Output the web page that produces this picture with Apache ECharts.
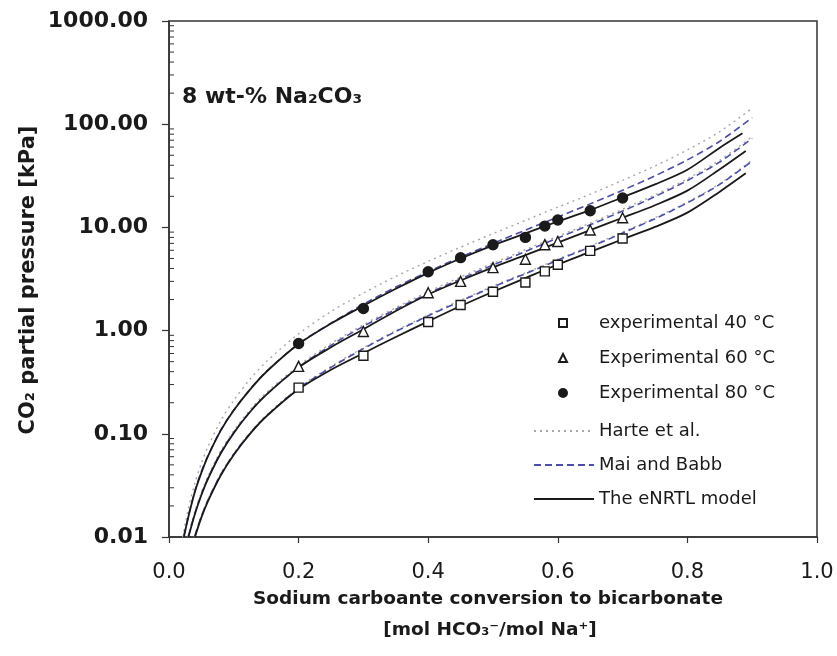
<!DOCTYPE html>
<html>
<head>
<meta charset="utf-8">
<script src="https://cdn.jsdelivr.net/npm/echarts@6/dist/echarts.min.js"></script>
<style>
html,body{margin:0;padding:0;background:#fff;}
#c{width:837px;height:656px;}
</style>
</head>
<body>
<div id="c"></div>
<script>
// ---- experimental data ----
const expX  = [0.2, 0.3, 0.4, 0.45, 0.5, 0.55, 0.58, 0.6, 0.65, 0.7];
const exp40 = [0.28, 0.57, 1.21, 1.77, 2.38, 2.92, 3.75, 4.35, 5.92, 7.8];
const exp60 = [0.45, 0.98, 2.33, 3.0, 4.08, 4.91, 6.8, 7.3, 9.44, 12.4];
const exp80 = [0.75, 1.64, 3.72, 5.09, 6.8, 8.0, 10.3, 11.8, 14.5, 19.3];

// ---- model curves ----
const eX80 = [0.023,0.03,0.04,0.05,0.06,0.08,0.1,0.125,0.15,0.2,0.25,0.3,0.35,0.4,0.45,0.5,0.55,0.6,0.65,0.7,0.75,0.8,0.85,0.885];
const eY80 = [0.01,0.0158,0.0275,0.042,0.0605,0.108,0.169,0.268,0.397,0.74,1.17,1.74,2.54,3.63,5.0,6.7,8.74,11.4,14.7,19.6,26.1,36.2,59.2,81.7];
const eX60 = [0.03,0.04,0.05,0.06,0.08,0.1,0.125,0.15,0.2,0.25,0.3,0.35,0.4,0.45,0.5,0.55,0.6,0.65,0.7,0.75,0.8,0.85,0.89];
const eY60 = [0.01,0.0167,0.0255,0.0364,0.0647,0.102,0.1625,0.238,0.44,0.69,1.03,1.55,2.24,3.06,4.1,5.38,7.11,9.42,12.4,16.4,22.7,36.6,55];
const eX40 = [0.04,0.05,0.06,0.08,0.1,0.125,0.15,0.2,0.25,0.3,0.35,0.4,0.45,0.5,0.55,0.6,0.65,0.7,0.75,0.8,0.85,0.89];
const eY40 = [0.01,0.0155,0.0222,0.0397,0.0628,0.1,0.147,0.27,0.417,0.604,0.867,1.23,1.73,2.38,3.23,4.37,5.79,7.68,10.1,13.9,22.2,33.4];

const mX80 = [0.023,0.03,0.04,0.05,0.06,0.08,0.1,0.125,0.15,0.2,0.25,0.3,0.35,0.4,0.45,0.5,0.55,0.6,0.65,0.7,0.75,0.8,0.85,0.9];
const mY80 = [0.0103,0.016,0.028,0.043,0.061,0.109,0.17,0.27,0.40,0.745,1.18,1.8,2.64,3.73,5.15,7.0,9.41,12.6,16.9,22.9,31.6,45.1,68.4,115.8];
const mX60 = [0.03,0.04,0.05,0.06,0.08,0.1,0.125,0.15,0.2,0.25,0.3,0.35,0.4,0.45,0.5,0.55,0.6,0.65,0.7,0.75,0.8,0.85,0.9];
const mY60 = [0.0102,0.017,0.026,0.037,0.066,0.103,0.164,0.24,0.44,0.72,1.1,1.61,2.29,3.17,4.32,5.85,7.9,10.6,14.4,19.9,28.5,43.1,73];
const mX40 = [0.04,0.05,0.06,0.08,0.1,0.125,0.15,0.2,0.25,0.3,0.35,0.4,0.45,0.5,0.55,0.6,0.65,0.7,0.75,0.8,0.85,0.9];
const mY40 = [0.0103,0.0158,0.0226,0.0404,0.0633,0.101,0.148,0.275,0.44,0.669,0.98,1.39,1.93,2.65,3.56,4.82,6.46,8.82,12.15,17.3,26.1,44];

const hX80 = [0.021,0.03,0.04,0.05,0.06,0.08,0.1,0.125,0.15,0.2,0.25,0.3,0.35,0.4,0.45,0.5,0.55,0.6,0.65,0.7,0.75,0.8,0.85,0.9];
const hY80 = [0.0099,0.019,0.0333,0.0518,0.0747,0.134,0.211,0.338,0.498,0.93,1.53,2.31,3.35,4.69,6.44,8.7,11.7,15.7,21.0,28.6,39.4,56.3,84.8,143];
const hX60 = [0.029,0.04,0.05,0.06,0.08,0.1,0.125,0.15,0.2,0.25,0.3,0.35,0.4,0.45,0.5,0.55,0.6,0.65,0.7,0.75,0.8,0.85,0.9];
const hY60 = [0.01,0.0177,0.027,0.0385,0.0686,0.107,0.171,0.25,0.458,0.75,1.14,1.67,2.38,3.3,4.5,6.08,8.2,11.0,15.0,20.7,29.6,44.8,76];
const hX40 = [0.039,0.05,0.06,0.08,0.1,0.125,0.15,0.2,0.25,0.3,0.35,0.4,0.45,0.5,0.55,0.6,0.65,0.7,0.75,0.8,0.85,0.9];
const hY40 = [0.01,0.0161,0.023,0.0412,0.0646,0.103,0.151,0.28,0.449,0.682,1.0,1.42,1.97,2.7,3.63,4.92,6.59,9.0,12.4,17.6,26.6,45];

// ---- text ----
const nameExp40 = 'experimental 40 °C';
const nameExp60 = 'Experimental 60 °C';
const nameExp80 = 'Experimental 80 °C';
const nameHarte = 'Harte et al.';
const nameMai = 'Mai and Babb';
const nameENRTL = 'The eNRTL model';
const annotation = '8 wt-% Na₂CO₃';
const yTitle = 'CO₂ partial pressure [kPa]';
const xTitle1 = 'Sodium carboante conversion to bicarbonate';
const xTitle2 = '[mol HCO₃⁻/mol Na⁺]';

const zip = (xs, ys) => xs.map((x, i) => [x, ys[i]]);
const minorVals = [];
for (let e = -2; e < 3; e++) for (let m = 2; m < 10; m++) minorVals.push(m * Math.pow(10, e));

const FONT = 'DejaVu Sans';
const ink = '#1a1a1a';
const blue = '#4b4fa6';
const gray = '#a8a8a8';

function lineSeries(name, xs, ys, type, color, width) {
  return {
    type: 'line', name: name, data: zip(xs, ys), showSymbol: false, symbol: 'none',
    smooth: 0.3, silent: true, z: type === 'solid' ? 4 : 3,
    lineStyle: { color: color, width: width, type: type === 'dotted' ? [2, 4] : (type === 'dashed' ? [7, 4] : 'solid') },
    itemStyle: { color: color }
  };
}
function scatterSeries(name, ys, symbol, size, fill) {
  return {
    type: 'scatter', name: name, data: zip(expX, ys), symbol: symbol, symbolSize: size, z: 6,
    itemStyle: { color: fill, borderColor: ink, borderWidth: 1.4, opacity: 1 }
  };
}

const chart = echarts.init(document.getElementById('c'), null, { renderer: 'canvas' });
chart.setOption({
  animation: false,
  backgroundColor: '#fff',
  grid: { left: 169, right: 20, top: 21, bottom: 119, show: true, borderColor: '#333', borderWidth: 1.5, backgroundColor: 'transparent' },
  xAxis: {
    type: 'value', min: 0, max: 1, interval: 0.2,
    axisLine: { show: true, lineStyle: { color: '#333', width: 1.5 } },
    axisTick: { show: true, inside: false, length: 6, lineStyle: { color: '#333', width: 1.2 } },
    splitLine: { show: false },
    axisLabel: { margin: 25, fontFamily: FONT, fontWeight: 'normal', fontSize: 21, color: ink,
      formatter: v => v.toFixed(1) }
  },
  yAxis: {
    type: 'log', logBase: 10, min: 0.01, max: 1000, interval: 1,
    axisLine: { show: true, lineStyle: { color: '#333', width: 1.5 } },
    axisTick: { show: true, inside: false, length: 7, lineStyle: { color: '#333', width: 1.2 } },
    splitLine: { show: false },
    axisLabel: { margin: 21, fontFamily: FONT, fontWeight: 'bold', fontSize: 22, color: ink,
      formatter: v => Number(v).toFixed(2) }
  },
  legend: [
    {
      orient: 'vertical', left: 558, top: 314, padding: 0, itemWidth: 8, itemHeight: 8, itemGap: 17,
      symbolKeepAspect: true,
      textStyle: { fontFamily: FONT, fontSize: 18, color: ink, padding: [0, 0, 0, 27] },
      data: [ { name: nameExp40 }, { name: nameExp60 }, { name: nameExp80 } ]
    },
    {
      orient: 'vertical', left: 533, top: 422, padding: 0, itemWidth: 60, itemHeight: 8, itemGap: 16,
      textStyle: { fontFamily: FONT, fontSize: 18, color: ink },
      data: [
        { name: nameHarte, itemStyle: { opacity: 0 } },
        { name: nameMai, itemStyle: { opacity: 0 } },
        { name: nameENRTL, itemStyle: { opacity: 0 } }
      ]
    }
  ],
  graphic: [
    { type: 'text', left: 182, top: 86, style: { text: annotation, font: 'bold 22px "DejaVu Sans"', fill: ink } },
    { type: 'text', x: 29, y: 280, rotation: Math.PI / 2,
      style: { text: yTitle, font: 'bold 21px "DejaVu Sans"', fill: ink, align: 'center', verticalAlign: 'middle' } },
    { type: 'text', x: 488, y: 599,
      style: { text: xTitle1, font: 'bold 18.5px "DejaVu Sans"', fill: ink, align: 'center', verticalAlign: 'middle' } },
    { type: 'text', x: 490, y: 630,
      style: { text: xTitle2, font: 'bold 18.5px "DejaVu Sans"', fill: ink, align: 'center', verticalAlign: 'middle' } }
  ],
  series: [
    lineSeries(nameHarte, hX80, hY80, 'dotted', gray, 1.4),
    lineSeries(nameHarte, hX60, hY60, 'dotted', gray, 1.4),
    lineSeries(nameHarte, hX40, hY40, 'dotted', gray, 1.4),
    lineSeries(nameMai, mX80, mY80, 'dashed', blue, 1.6),
    lineSeries(nameMai, mX60, mY60, 'dashed', blue, 1.6),
    lineSeries(nameMai, mX40, mY40, 'dashed', blue, 1.6),
    lineSeries(nameENRTL, eX80, eY80, 'solid', ink, 1.8),
    lineSeries(nameENRTL, eX60, eY60, 'solid', ink, 1.8),
    lineSeries(nameENRTL, eX40, eY40, 'solid', ink, 1.8),
    scatterSeries(nameExp40, exp40, 'rect', 9, '#fff'),
    scatterSeries(nameExp60, exp60, 'triangle', 10, '#fff'),
    scatterSeries(nameExp80, exp80, 'circle', 10, ink),
    {
      type: 'custom', name: 'minorTicks', silent: true, clip: false, z: 5,
      data: minorVals.map(v => [0, v]),
      encode: { x: 0, y: 1 },
      renderItem: function (params, api) {
        const p = api.coord([0, api.value(1)]);
        return { type: 'line', shape: { x1: p[0], y1: p[1], x2: p[0] + 5, y2: p[1] },
          style: { stroke: '#333', lineWidth: 1 } };
      }
    }
  ]
});
</script>
</body>
</html>
